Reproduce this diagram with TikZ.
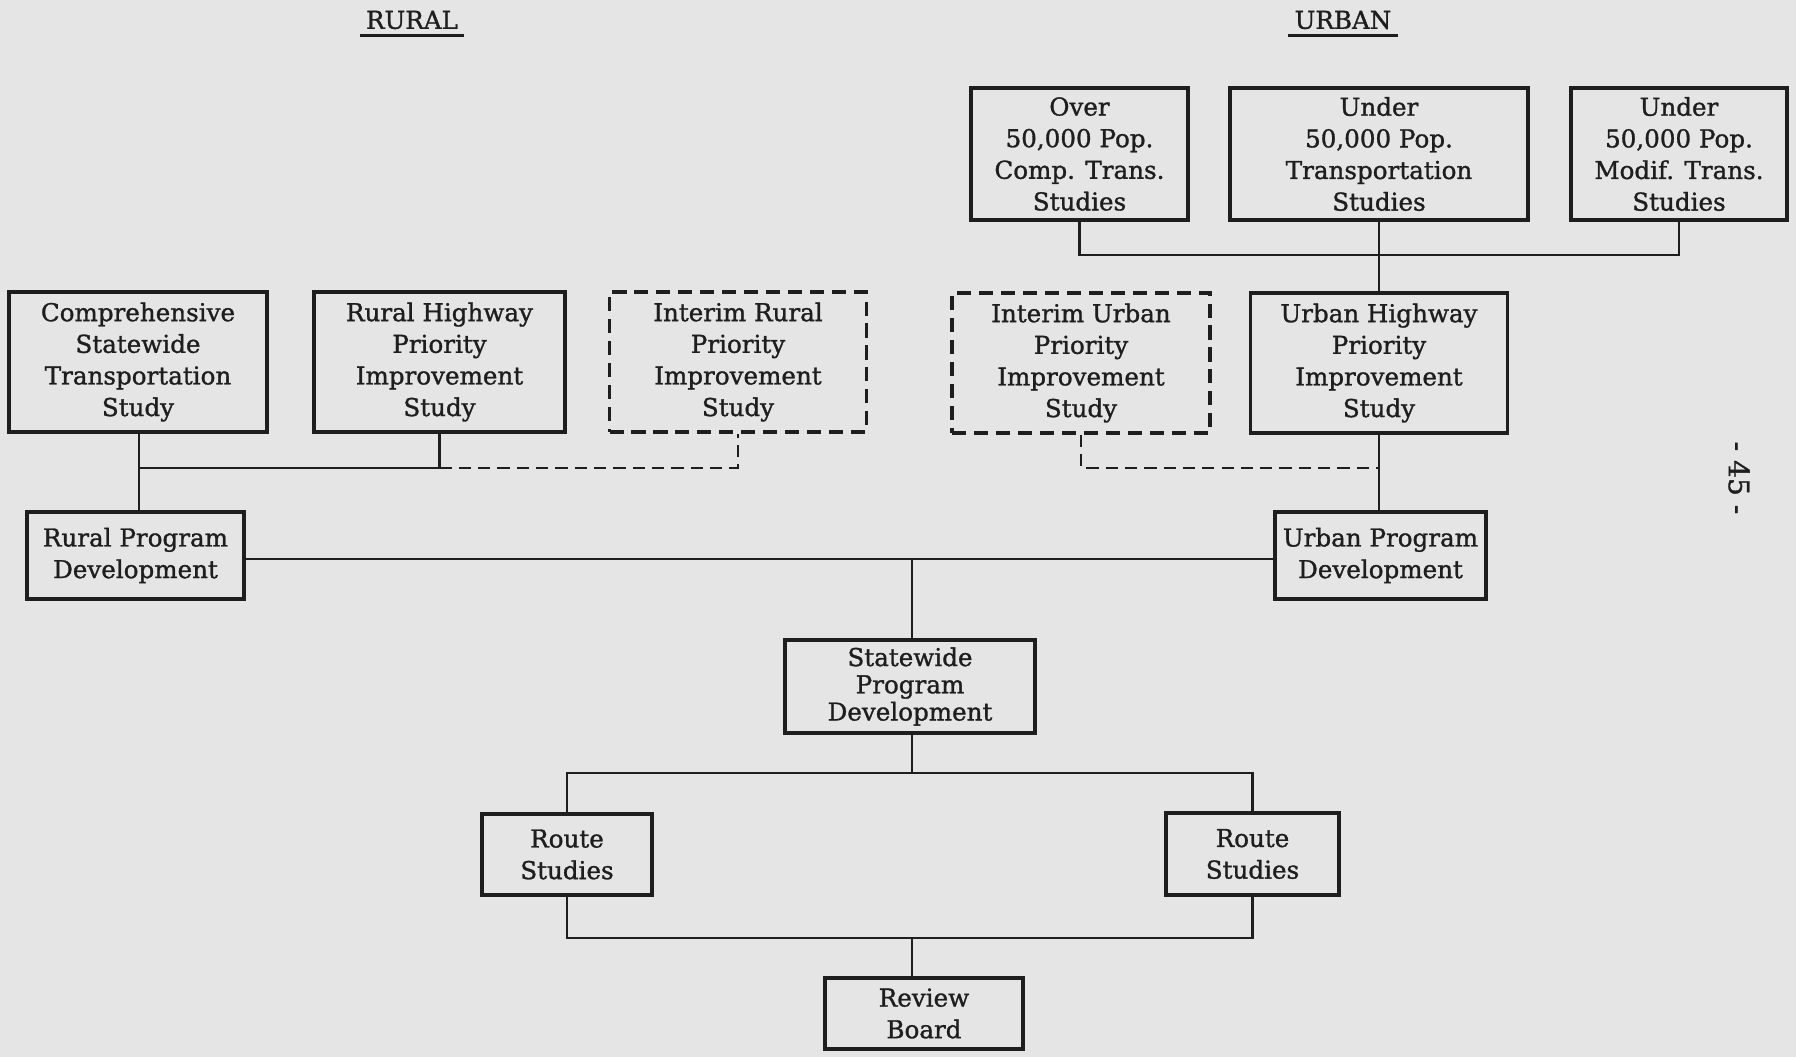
\documentclass[tikz,border=0pt]{standalone}
\usepackage{fontspec}
\setmainfont{DejaVu Serif}[RawFeature={embolden=1.2}]
\definecolor{ppr}{RGB}{229,229,229}
\definecolor{ink}{RGB}{30,30,30}

\begin{document}
\begin{tikzpicture}[x=0.02cm,y=-0.02cm,font=\fontsize{14}{18}\selectfont,
  stdy/.style={draw=ink,line width=1.8pt,align=center,inner sep=0pt,text=ink},
  intr/.style={stdy,dash pattern=on 8pt off 4.5pt},
  lnk/.style={draw=ink,line width=1.5pt},
  dsh/.style={lnk,dash pattern=on 7pt off 4pt}]
  \fill[ppr] (0,0) rectangle (1796,1057);
  \useasboundingbox (0,0) rectangle (1796,1057);

  % headings
  \node[text=ink] (rur) at (412,20) {RURAL};
  \node[text=ink] (urb) at (1343,20) {URBAN};
  \draw[lnk] (rur.south west) -- (rur.south east);
  \draw[lnk] (urb.south west) -- (urb.south east);
  \node[text=ink,rotate=-90,font=\fontsize{16}{18}\selectfont] (pg) at (1739,478) {- 45 -};

  % urban studies
  \node[stdy,minimum width=4.34cm,minimum height=2.64cm] (over) at (1079.5,154) {Over\\50,000 Pop.\\Comp. Trans.\\Studies};
  \node[stdy,minimum width=5.96cm,minimum height=2.64cm] (undt) at (1379,154) {Under\\50,000 Pop.\\Transportation\\Studies};
  \node[stdy,minimum width=4.32cm,minimum height=2.64cm] (undm) at (1679,154) {Under\\50,000 Pop.\\Modif. Trans.\\Studies};

  % priority studies
  \node[stdy,minimum width=5.16cm,minimum height=2.8cm] (comp) at (138,362) {Comprehensive\\Statewide\\Transportation\\Study};
  \node[stdy,minimum width=5.02cm,minimum height=2.8cm] (rhwy) at (439.5,362) {Rural Highway\\Priority\\Improvement\\Study};
  \node[intr,minimum width=5.14cm,minimum height=2.8cm] (irur) at (738,362) {Interim Rural\\Priority\\Improvement\\Study};
  \node[intr,minimum width=5.16cm,minimum height=2.8cm] (iurb) at (1081,363) {Interim Urban\\Priority\\Improvement\\Study};
  \node[stdy,minimum width=5.14cm,minimum height=2.8cm] (uhwy) at (1379,363) {Urban Highway\\Priority\\Improvement\\Study};

  % program development
  \node[stdy,minimum width=4.34cm,minimum height=1.74cm] (rpd) at (135.5,555.5) {Rural Program\\Development};
  \node[stdy,minimum width=4.22cm,minimum height=1.74cm] (upd) at (1380.5,555.5) {Urban Program\\Development};
  \node[stdy,minimum width=5cm,minimum height=1.86cm,font=\fontsize{14}{15.5}\selectfont] (swpd) at (910,686.5) {Statewide\\Program\\Development};
  \node[stdy,minimum width=3.4cm,minimum height=1.62cm] (rtl) at (567,854.5) {Route\\Studies};
  \node[stdy,minimum width=3.46cm,minimum height=1.64cm] (rtr) at (1252.5,854) {Route\\Studies};
  \node[stdy,minimum width=3.96cm,minimum height=1.42cm] (revb) at (924,1013.5) {Review\\Board};

  \coordinate (jU) at (1379,255);
  \coordinate (jR) at (139,468);
  \coordinate (jV) at (1379,468);
  \coordinate (jM) at (912,559);
  \coordinate (jS) at (912,773);
  \coordinate (jB) at (912,938);

  \draw[lnk] (over.south) |- (jU) -| (undm.south);
  \draw[lnk] (undt.south) -- (uhwy.north);
  \draw[lnk] (comp.south -| jR) -- (jR) -| (rhwy.south);
  \draw[dsh] (rhwy.south |- jR) -| (irur.south);
  \draw[lnk] (jR) -- (rpd.north -| jR);
  \draw[lnk] (uhwy.south) -- (upd.north -| uhwy.south);
  \draw[dsh] (iurb.south) |- (jV);
  \draw[lnk] (rpd.east |- jM) -- (upd.west |- jM);
  \draw[lnk] (jM) -- (swpd.north -| jM);
  \draw[lnk] (swpd.south -| jS) -- (jS);
  \draw[lnk] (rtl.north) |- (jS) -| (rtr.north);
  \draw[lnk] (rtl.south) |- (jB) -| (rtr.south);
  \draw[lnk] (jB) -- (revb.north -| jB);
\end{tikzpicture}
\end{document}
